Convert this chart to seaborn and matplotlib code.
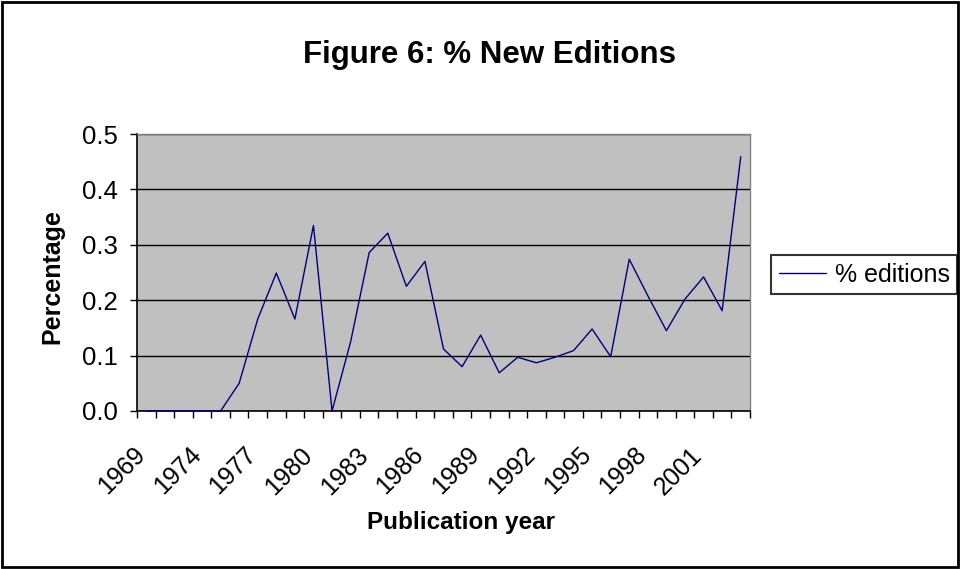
import matplotlib
matplotlib.use("Agg")
import matplotlib.pyplot as plt
import matplotlib.patches as mpatches
from matplotlib.ticker import FixedLocator, FormatStrFormatter
import numpy as np
import pandas as pd
import seaborn as sns

# Publication years (category axis) and share of new editions
years = [1969, 1972, 1973] + list(range(1974, 2004))
pct_editions = [0.0, 0.0, 0.0, 0.0, 0.0, 0.050, 0.166, 0.249, 0.166, 0.335,
                0.0, 0.125, 0.286, 0.321, 0.225, 0.270, 0.112, 0.080, 0.137,
                0.069, 0.097, 0.087, 0.097, 0.109, 0.148, 0.098, 0.274, 0.208,
                0.145, 0.202, 0.242, 0.181, 0.459]
labelled_years = [1969, 1974, 1977, 1980, 1983, 1986, 1989, 1992, 1995, 1998, 2001]

df = pd.DataFrame({"pos": np.arange(len(years)), "year": years,
                   "value": pct_editions})

sns.set_theme(style="white")
plt.rcParams["font.family"] = ["Liberation Sans", "DejaVu Sans"]
plt.rcParams.update({"text.color": "black", "axes.labelcolor": "black",
                     "xtick.color": "black", "ytick.color": "black"})

fig = plt.figure(figsize=(9.6, 5.69), dpi=100)
ax = fig.add_axes([137 / 960, 1 - 411 / 569, 613 / 960, 277 / 569])
ax.set_facecolor("#C0C0C0")

sns.lineplot(data=df, x="pos", y="value", ax=ax, color="#000080",
             linewidth=1.0, label="% editions", legend=False)
for ln in ax.get_lines():
    ln.set_clip_on(False)
    ln.set_zorder(4)

# Y axis
ax.set_yticks(np.arange(0, 0.51, 0.1))
ax.yaxis.set_major_formatter(FormatStrFormatter("%.1f"))
ax.yaxis.grid(True, color="black", linewidth=1.0)
ax.set_axisbelow(True)

# X axis: slanted year labels ending at their category centre,
# tick marks drawn between categories
label_pos = [years.index(y) for y in labelled_years]
ax.set_xticks(label_pos)
ax.set_xticklabels([str(y) for y in labelled_years], rotation=45,
                   ha="right", va="baseline", rotation_mode="anchor",
                   fontsize=18)
ax.xaxis.set_minor_locator(FixedLocator(np.arange(-0.5, len(years), 1.0)))
ax.tick_params(axis="x", which="major", length=0, pad=32.5)
ax.tick_params(axis="x", which="minor", length=5, width=1, color="black",
               direction="out", bottom=True)
ax.tick_params(axis="y", which="major", length=5, width=1, color="black",
               direction="out", left=True, labelsize=18.5, pad=9)

ax.set_xlim(-0.5, len(years) - 0.5)
ax.set_ylim(0, 0.5)

for side in ["top", "right"]:
    ax.spines[side].set_color("#808080")
    ax.spines[side].set_linewidth(1.0)
for side in ["left", "bottom"]:
    ax.spines[side].set_color("black")
    ax.spines[side].set_linewidth(1.2)

ax.set_xlabel("Publication year", fontsize=17.5, fontweight="bold")
ax.xaxis.set_label_coords(461 / 960, 1 - 523 / 569, transform=fig.transFigure)
ax.xaxis.label.set_va("center")
ax.set_ylabel("Percentage", fontsize=18, fontweight="bold")
ax.yaxis.set_label_coords(52 / 960, 1 - 277 / 569, transform=fig.transFigure)
ax.yaxis.label.set_va("center")

fig.suptitle("Figure 6: % New Editions", x=490 / 960, y=1 - 55 / 569,
             va="center", fontsize=22.5, fontweight="bold")

leg = fig.legend(handles=ax.get_lines()[:1], labels=["% editions"],
                 loc="center left", bbox_to_anchor=(771 / 960, 1 - 274.5 / 569),
                 borderaxespad=0, fontsize=18, frameon=True, fancybox=False,
                 handlelength=1.9, handletextpad=0.35, borderpad=0.3)
leg.get_frame().set_edgecolor("black")
leg.get_frame().set_linewidth(1.5)
leg.get_frame().set_facecolor("white")

# Outer chart border
fig.patches.append(mpatches.Rectangle((0.002, 0.003), 0.996, 0.994,
                                      transform=fig.transFigure, fill=False,
                                      edgecolor="black", linewidth=2))

fig.savefig("out.png", dpi=100)
